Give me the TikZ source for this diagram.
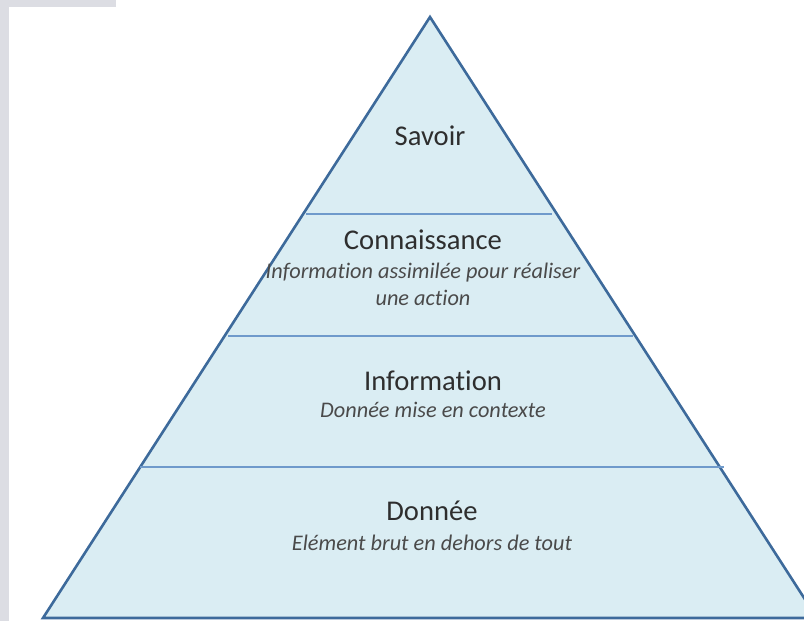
\documentclass[tikz,border=0pt]{standalone}
\usepackage{fontspec}
\setmainfont{Carlito}[Ligatures=NoCommon]
\definecolor{pyrfill}{HTML}{DAEDF3}
\definecolor{pyredge}{HTML}{3D6A9B}
\definecolor{sepline}{HTML}{6F9ACB}
\definecolor{sidegray}{HTML}{DCDDE3}
\definecolor{titletext}{HTML}{2E2E2E}
\definecolor{subtext}{HTML}{4A4A4A}
\tikzset{
  title/.style={font=\fontsize{28.6}{32}\selectfont, text=titletext, inner sep=0pt, anchor=base},
  sub/.style={font=\fontsize{22.3}{27}\selectfont\itshape, text=subtext, inner sep=0pt, anchor=base, align=center},
  sep/.style={draw=sepline, line width=2pt},
}
\begin{document}
\begin{tikzpicture}[x=1pt,y=-1pt]
\useasboundingbox (0,0) rectangle (804,621);
\clip (0,0) rectangle (804,621);
\fill[sidegray] (0,0) rectangle (9,621);
\fill[sidegray] (0,0) rectangle (116,7);
\coordinate (apex) at (430,17);
\coordinate (bl) at (43,618);
\coordinate (br) at (817,618);
\filldraw[fill=pyrfill, draw=pyredge, line width=2.6pt, line join=miter] (apex) -- (br) -- (bl) -- cycle;
\coordinate (s1l) at (306,214); \coordinate (s1r) at (552,214);
\coordinate (s2l) at (228,336); \coordinate (s2r) at (633,336);
\coordinate (s3l) at (140,467); \coordinate (s3r) at (724,467);
\draw[sep] (s1l) -- (s1r);
\draw[sep] (s2l) -- (s2r);
\draw[sep] (s3l) -- (s3r);
\node[title] (savoir) at (430,145) {Savoir};
\node[title] (conn) at (423,249) {Connaissance};
\node[sub] (conn1) at (423,278) {Information assimilée pour réaliser};
\node[sub] (conn2) at (423,305) {une action};
\node[title] (info) at (433,390) {Information};
\node[sub] (info1) at (433,417) {Donnée mise en contexte};
\node[title] (donnee) at (432,520) {Donnée};
\node[sub] (donnee1) at (432,550) {Elément brut en dehors de tout};
\end{tikzpicture}
\end{document}
